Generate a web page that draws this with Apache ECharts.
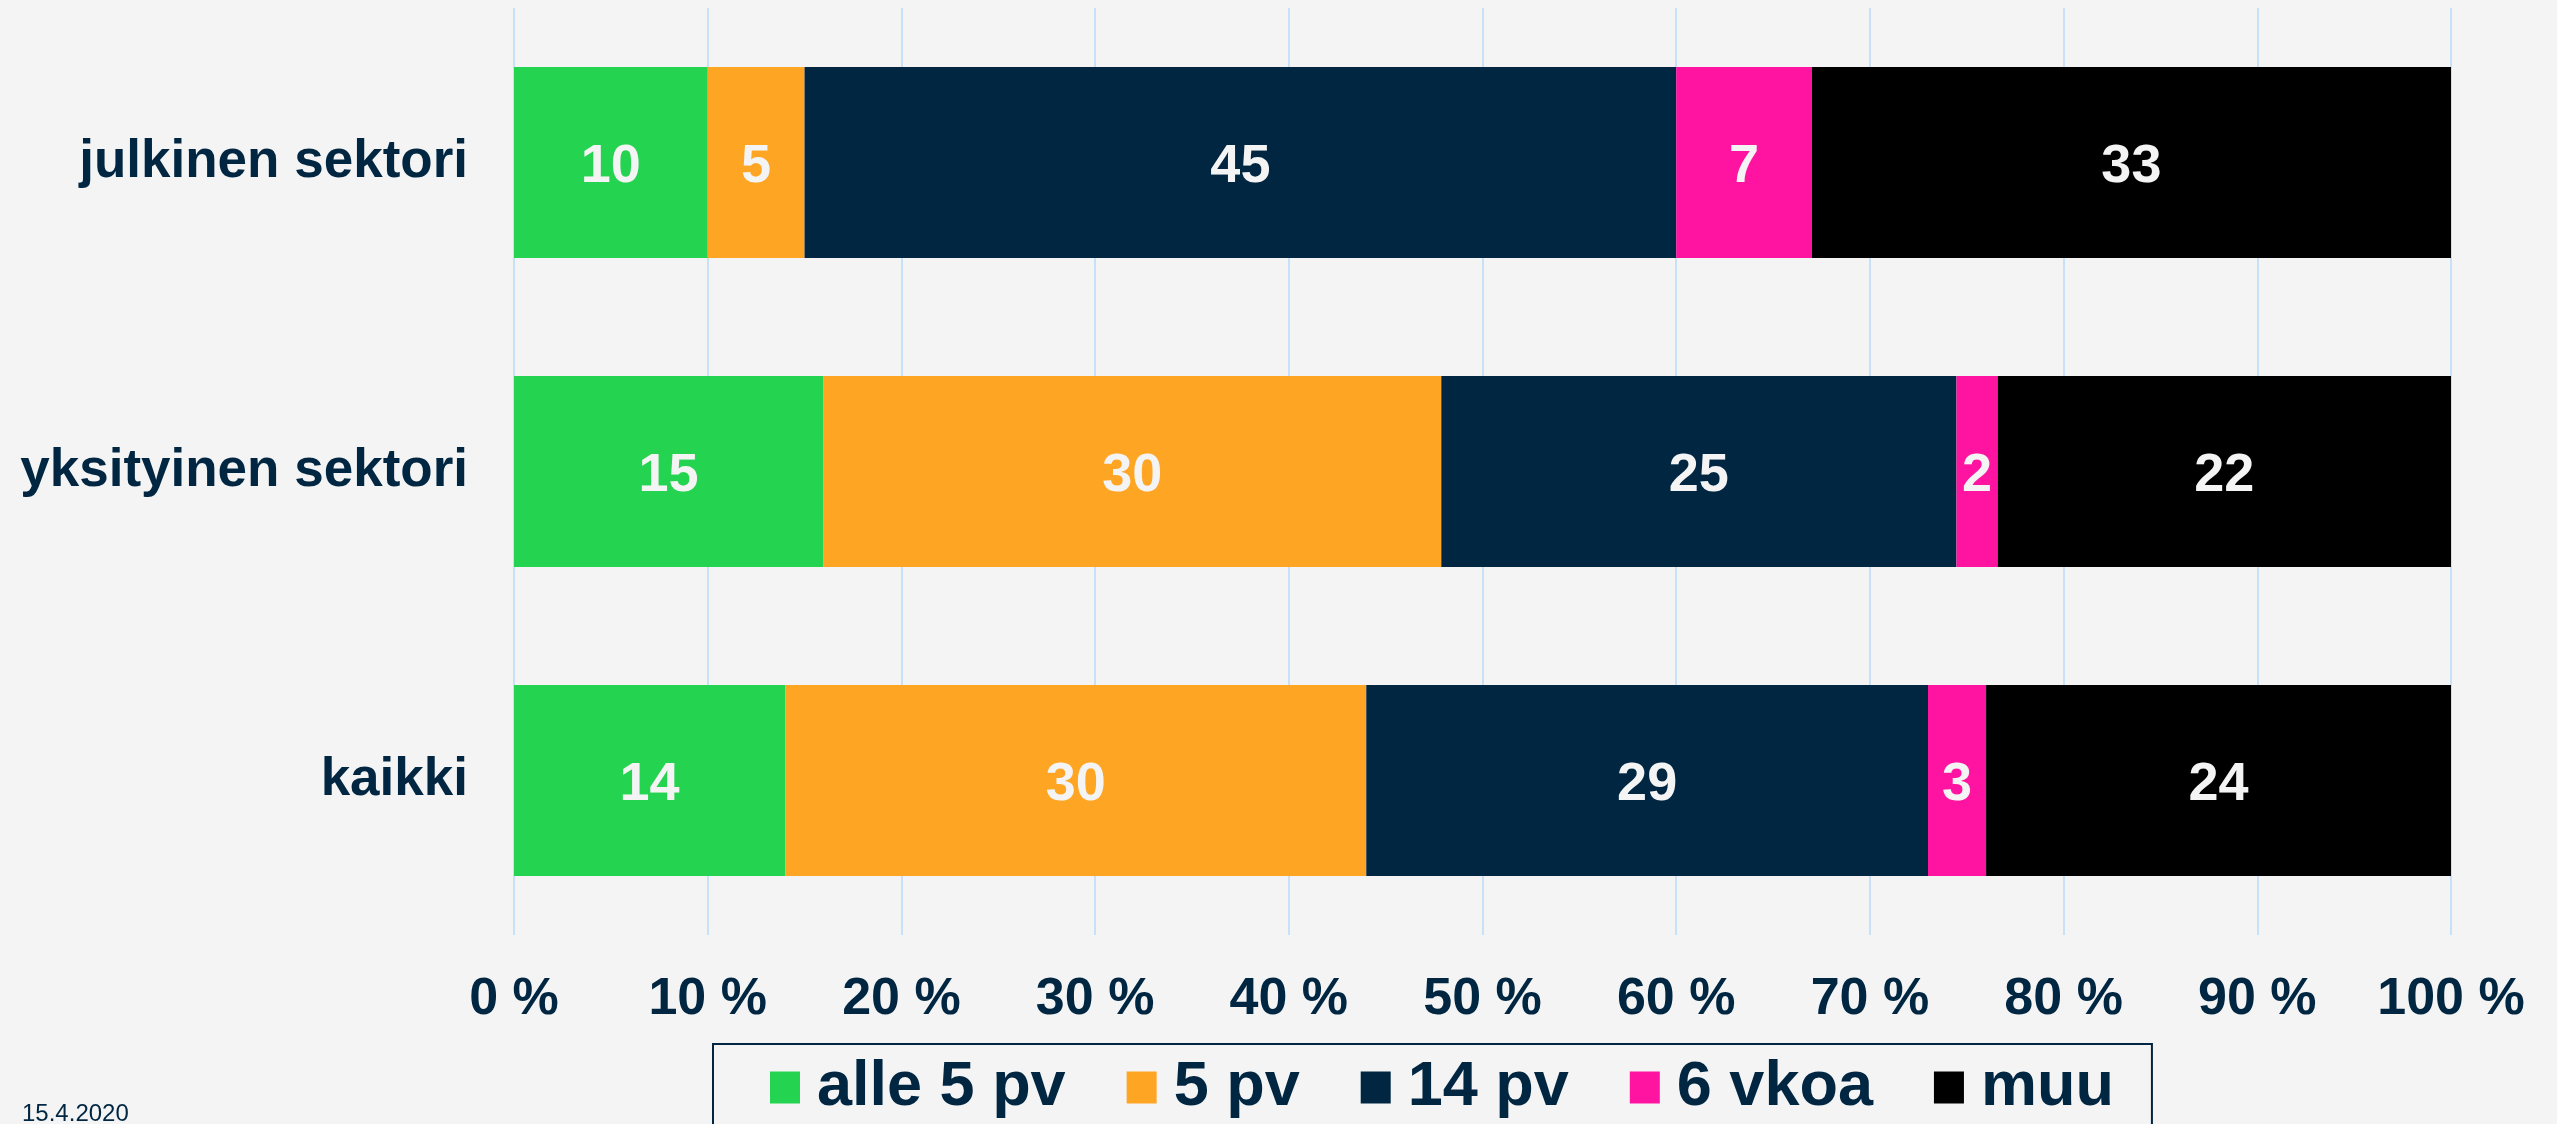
<!DOCTYPE html>
<html>
<head>
<meta charset="utf-8">
<script src="https://cdn.jsdelivr.net/npm/echarts@6/dist/echarts.min.js"></script>
<style>
  html, body { margin: 0; padding: 0; background: #f4f4f4; }
  #chart { width: 2557px; height: 1124px; }
</style>
</head>
<body>
<div id="chart"></div>
<script>
// rows, top to bottom
let categories = ['julkinen sektori', 'yksityinen sektori', 'kaikki']
let seriesNames = ['alle 5 pv', '5 pv', '14 pv', '6 vkoa', 'muu']
let alle5pv = [10, 15, 14]
let viisiPv = [5, 30, 30]
let neljatoistaPv = [45, 25, 29]
let kuusiVkoa = [7, 2, 3]
let muu = [33, 22, 24]
let tickLabels = ['0 %', '10 %', '20 %', '30 %', '40 %', '50 %', '60 %', '70 %', '80 %', '90 %', '100 %']
let dateText = '15.4.2020'

let colors = ['#24d34f', '#ffa524', '#002642', '#ff14a2', '#000000']
let navy = '#002642'
let fontNarrow = '"Liberation Sans Narrow", "Arial Narrow", "Liberation Sans", sans-serif'

let rawList = [alle5pv, viisiPv, neljatoistaPv, kuusiVkoa, muu]
// 100 % stacked: each row scaled to its own sum
let rowSums = categories.map((c, i) => rawList.reduce((s, arr) => s + arr[i], 0))

let chart = echarts.init(document.getElementById('chart'))

let series = rawList.map((arr, k) => {
  return {
    name: seriesNames[k],
    type: 'bar',
    stack: 'total',
    barWidth: 191,
    itemStyle: { color: colors[k] },
    label: {
      show: true,
      position: 'inside',
      offset: [0, 5],
      color: '#f4f4f4',
      fontFamily: fontNarrow,
      fontWeight: 'bold',
      fontSize: 54,
      formatter: function (p) {
        return rawList[p.seriesIndex][p.dataIndex]
      }
    },
    data: arr.map((v, i) => v / rowSums[i] * 100)
  }
})

let option = {
  backgroundColor: '#f4f4f4',
  animation: false,
  title: {
    text: dateText,
    left: 22,
    top: 1102,
    padding: 0,
    textStyle: { color: navy, fontFamily: fontNarrow, fontWeight: 'normal', fontSize: 24 }
  },
  grid: { left: 514, right: 106, top: 8, bottom: 189, containLabel: false },
  xAxis: {
    type: 'value',
    min: 0,
    max: 100,
    interval: 10,
    axisLine: { show: false },
    axisTick: { show: false },
    splitLine: { show: true, lineStyle: { color: '#c6e1f8', width: 2 } },
    axisLabel: {
      margin: 39,
      color: navy,
      fontFamily: fontNarrow,
      fontWeight: 'bold',
      fontSize: 52,
      lineHeight: 52,
      formatter: function (v) { return tickLabels[Math.round(v / 10)] }
    }
  },
  yAxis: {
    type: 'category',
    inverse: true,
    data: categories,
    axisLine: { show: false },
    axisTick: { show: false },
    axisLabel: {
      margin: 46,
      color: navy,
      fontFamily: fontNarrow,
      fontWeight: 'bold',
      fontSize: 53,
      padding: [10, 0, 0, 0]
    }
  },
  legend: {
    data: seriesNames,
    left: 713,
    top: 1044,
    padding: [12, 38, 40, 57],
    borderColor: navy,
    borderWidth: 2,
    itemWidth: 30,
    itemHeight: 32,
    itemGap: 61,
    icon: 'rect',
    textStyle: {
      color: navy,
      fontFamily: fontNarrow,
      fontWeight: 'bold',
      fontSize: 63,
      padding: [0, 0, 0, 12]
    }
  },
  series: series
}

chart.setOption(option)
</script>
</body>
</html>
